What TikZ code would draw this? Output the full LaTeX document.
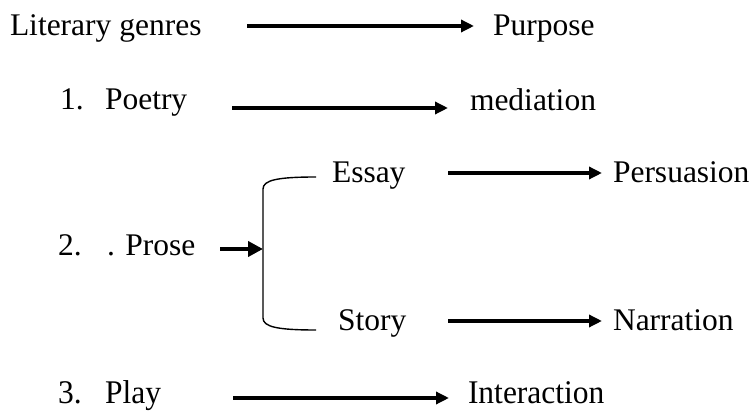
\documentclass[tikz,border=0pt]{standalone}
\usepackage{fontspec}
\setmainfont{Liberation Serif}
\newfontfamily\serfont{Liberation Serif}
\usetikzlibrary{arrows.meta}
\begin{document}
\begin{tikzpicture}[x=1pt,y=-1pt,
  txt/.style={anchor=base west,inner sep=0pt,outer sep=0pt,font=\serfont\fontsize{31.5}{36}\selectfont},
  conn/.style={line width=3.4pt,-{Triangle[length=13pt,width=12pt]}},
  thickconn/.style={line width=4.2pt,-{Triangle[length=15pt,width=15pt]}},
  brace/.style={line width=1.4pt}]
\useasboundingbox (0,0) rectangle (755,411);
% texts
\node[txt] (lit) at (10,36) {Literary genres};
\node[txt] (pur) at (493,36) {Purpose};
\node[txt] (n1) at (60,110) {1.};
\node[txt] (poe) at (105,110) {Poetry};
\node[txt] (med) at (470,111) {mediation};
\node[txt] (n2) at (58,256) {2.};
\node[txt] (pro) at (107,256) {. Prose};
\node[txt] (ess) at (332,183) {Essay};
\node[txt] (per) at (613,183) {Persuasion};
\node[txt] (sto) at (338,331) {Story};
\node[txt] (nar) at (613,331) {Narration};
\node[txt,yscale=1.05] (n3) at (58,404) {3.};
\node[txt,yscale=1.05] (pla) at (105,404) {Play};
\node[txt,yscale=1.05] (int) at (468,404) {Interaction};
% connector end points
\coordinate (a1s) at (247,26);  \coordinate (a1e) at (474,26);
\coordinate (a2s) at (232,108); \coordinate (a2e) at (448,108);
\coordinate (a3s) at (220,249); \coordinate (a3e) at (263,249);
\coordinate (a4s) at (448,173); \coordinate (a4e) at (602,173);
\coordinate (a5s) at (448,321); \coordinate (a5e) at (602,321);
\coordinate (a6s) at (233,398); \coordinate (a6e) at (449,398);
\coordinate (bt) at (316,177); \coordinate (bb) at (316,330);
% arrows
\draw[conn] (a1s) -- (a1e);
\draw[conn] (a2s) -- (a2e);
\draw[thickconn] (a3s) -- (a3e);
\draw[conn] (a4s) -- (a4e);
\draw[conn] (a5s) -- (a5e);
\draw[conn] (a6s) -- (a6e);
% bracket
\draw[brace] (bt) .. controls (278,177) and (263,180) .. (263,189) -- (263,318) .. controls (263,327) and (278,330) .. (bb);
\end{tikzpicture}
\end{document}
